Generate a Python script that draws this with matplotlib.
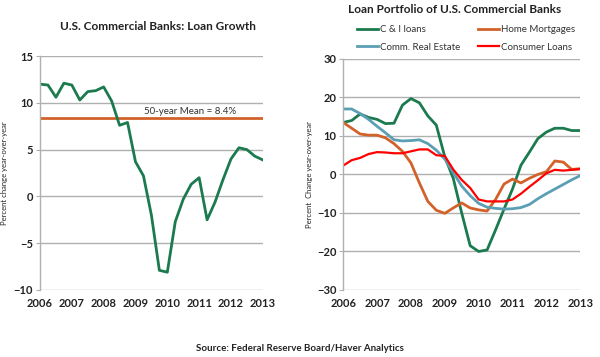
import numpy as np
import matplotlib.pyplot as plt

plt.rcParams['font.family'] = ['Lato', 'DejaVu Sans']

# quarterly, 2006Q1 .. 2013Q1
quarters = 2006 + np.arange(29) / 4.0

loan_growth = [12.0, 11.9, 10.6, 12.1, 11.9, 10.3, 11.2, 11.3, 11.7, 10.2,
               7.6, 7.9, 3.7, 2.2, -2.0, -7.9, -8.1, -2.7, -0.3, 1.3,
               2.0, -2.5, -0.6, 1.8, 4.0, 5.2, 5.0, 4.3, 3.9]
mean_50yr = 8.4

ci_loans = [13.5, 14.0, 15.7, 14.8, 14.3, 13.2, 13.3, 18.0, 19.7, 18.6,
            15.2, 12.8, 4.6, -1.0, -10.0, -18.5, -20.0, -19.6, -14.4, -9.0,
            -3.8, 2.4, 5.8, 9.3, 11.0, 12.0, 12.0, 11.4, 11.4]
home_mortgages = [13.5, 12.0, 10.5, 10.2, 10.2, 9.5, 8.0, 6.0, 3.0, -2.2,
                  -7.0, -9.3, -10.1, -8.7, -7.4, -8.7, -9.2, -9.5, -6.5, -2.5,
                  -1.2, -2.2, -1.0, 0.0, 0.7, 3.5, 3.2, 1.3, 1.5]
comm_real_estate = [17.0, 17.0, 15.8, 14.3, 12.5, 10.8, 9.0, 8.7, 8.8, 9.0,
                    8.0, 6.3, 4.0, 0.5, -3.0, -5.5, -7.5, -8.5, -8.8, -9.0,
                    -8.9, -8.6, -7.8, -6.3, -5.0, -3.8, -2.6, -1.4, -0.3]
consumer_loans = [2.3, 3.7, 4.3, 5.3, 5.8, 5.7, 5.5, 5.5, 6.0, 6.5,
                  6.5, 5.0, 4.8, 1.3, -1.4, -3.5, -6.5, -7.0, -7.0, -7.0,
                  -6.5, -5.0, -3.2, -1.5, 0.3, 1.2, 1.0, 1.2, 1.4]

years = list(range(2006, 2014))

GREEN = '#1b7a4e'
ORANGE = '#d2622a'
BLUE = '#5b9fb5'
RED = '#ff0000'
TXT = '#222222'

fig = plt.figure(figsize=(6, 3.57), dpi=100)
ax1 = fig.add_axes([0.0667, 0.1877, 0.3713, 0.6553])
ax2 = fig.add_axes([0.572, 0.1877, 0.395, 0.6473])


def style(ax, ylim, yticks):
    ax.set_xlim(2006, 2013)
    ax.set_ylim(*ylim)
    ax.set_xticks(years)
    ax.set_yticks(yticks)
    ax.grid(axis='y', color='#b0b0b0', linewidth=1)
    ax.set_axisbelow(True)
    for s in ['top', 'right', 'bottom']:
        ax.spines[s].set_visible(False)
    ax.spines['left'].set_color('#b0b0b0')
    ax.spines['left'].set_linewidth(1)
    ax.tick_params(axis='y', length=3, color='#b0b0b0', labelsize=8,
                   labelcolor=TXT, pad=2)
    ax.tick_params(axis='x', length=0, labelsize=8, labelcolor=TXT, pad=6)
    for lab in ax.get_xticklabels() + ax.get_yticklabels():
        lab.set_fontweight('bold')


# left panel
style(ax1, (-10, 15), [-10, -5, 0, 5, 10, 15])
ax1.axhline(mean_50yr, color=ORANGE, linewidth=2)
ax1.plot(quarters, loan_growth, color=GREEN, linewidth=2)
ax1.text(2010.7, 9.1, '50-year Mean = 8.4%', ha='center', va='center',
         fontsize=7, color='#333333')
ax1.set_ylabel('Percent change year-over-year', fontsize=5.5, color=TXT,
               labelpad=4)
fig.text(0.263, 0.927, 'U.S. Commercial Banks: Loan Growth',
         ha='center', va='center', fontsize=8.5, fontweight='bold', color=TXT)

# right panel
style(ax2, (-30, 30), [-30, -20, -10, 0, 10, 20, 30])
ax2.plot(quarters, ci_loans, color=GREEN, linewidth=2, label='C & I loans')
ax2.plot(quarters, home_mortgages, color=ORANGE, linewidth=2,
         label='Home Mortgages')
ax2.plot(quarters, comm_real_estate, color=BLUE, linewidth=2,
         label='Comm. Real Estate')
ax2.plot(quarters, consumer_loans, color=RED, linewidth=1.6,
         label='Consumer Loans')
ax2.set_ylabel('Percent  Change year-over-year', fontsize=5.5, color=TXT,
               labelpad=3)
h, l = ax2.get_legend_handles_labels()
order = [0, 2, 1, 3]
ax2.legend([h[i] for i in order], [l[i] for i in order], ncol=2,
           loc='upper left', bbox_to_anchor=(0.595, 0.93),
           bbox_transform=fig.transFigure, frameon=False,
           fontsize=7, handlelength=2.2, handletextpad=0.2,
           columnspacing=1.8, labelspacing=0.9, borderaxespad=0,
           borderpad=0, labelcolor='#333333')
fig.text(0.758, 0.972, 'Loan Portfolio of U.S. Commercial Banks',
         ha='center', va='center', fontsize=8.5, fontweight='bold', color=TXT)

fig.text(0.5, 0.025, 'Source: Federal Reserve Board/Haver Analytics',
         ha='center', va='center', fontsize=7, fontweight='bold', color=TXT)

fig.savefig('out.png', dpi=100)
